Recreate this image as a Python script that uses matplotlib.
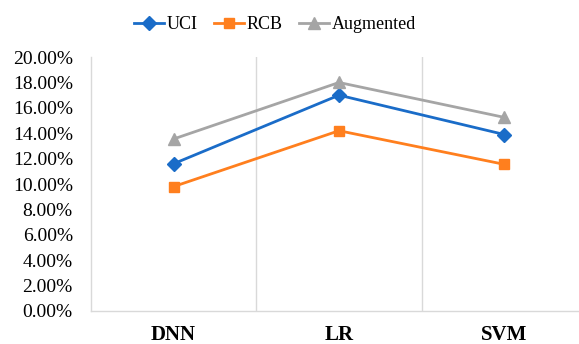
import matplotlib
matplotlib.use('Agg')
import matplotlib.pyplot as plt
from matplotlib.ticker import FuncFormatter

models = ['DNN', 'LR', 'SVM']
uci = [11.6, 17.0, 13.9]
rcb = [9.8, 14.2, 11.55]
augmented = [13.55, 18.0, 15.25]

plt.rcParams['font.family'] = ['Liberation Serif', 'DejaVu Serif']

fig = plt.figure(figsize=(5.79, 3.44), dpi=100)
ax = fig.add_axes([0.157, 0.096, 0.857, 0.738])

x = range(len(models))
ax.plot(x, uci, color='#1a6cc8', marker='D', markersize=7, linewidth=2, label='UCI')
ax.plot(x, rcb, color='#ff7f1e', marker='s', markersize=7.5, linewidth=2, label='RCB')
ax.plot(x, augmented, color='#a5a5a5', marker='^', markersize=8.5, linewidth=2, label='Augmented')

ax.set_xlim(-0.5, 2.5)
ax.set_ylim(0, 20)
ax.set_yticks(range(0, 21, 2))
ax.yaxis.set_major_formatter(FuncFormatter(lambda v, p: '%.2f%%' % v))
ax.set_xticks(list(x))
ax.set_xticklabels(models, fontweight='bold')
ax.set_xticks([0.5, 1.5], minor=True)
ax.grid(True, which='minor', axis='x', color='#d9d9d9', linewidth=1)
ax.tick_params(axis='x', which='both', length=0, labelsize=15, pad=10)
ax.tick_params(axis='y', length=0, labelsize=14, pad=13)

for s in ['top', 'right']:
    ax.spines[s].set_visible(False)
for s in ['left', 'bottom']:
    ax.spines[s].set_color('#d9d9d9')
    ax.spines[s].set_linewidth(1)

fig.legend(loc='upper center', bbox_to_anchor=(0.475, 1.0), ncol=3, frameon=False,
           fontsize=13, handlelength=1.65, handletextpad=0.15, columnspacing=0.9)

fig.savefig('out.png', dpi=100)
